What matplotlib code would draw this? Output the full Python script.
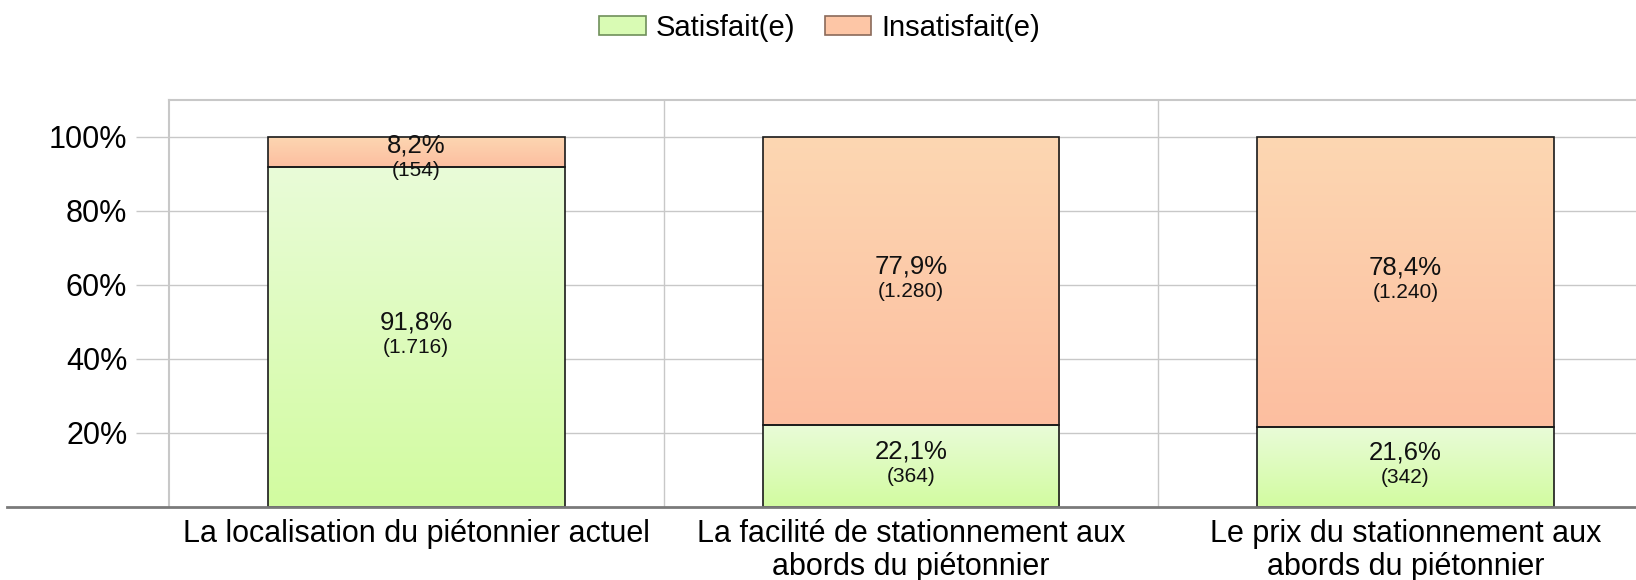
import numpy as np
import matplotlib.pyplot as plt
from matplotlib.patches import Patch
from matplotlib.lines import Line2D
from matplotlib.colors import LinearSegmentedColormap

plt.rcParams['font.family'] = ['Liberation Sans', 'DejaVu Sans']

# data
categories = ["La localisation du piétonnier actuel",
              "La facilité de stationnement aux\nabords du piétonnier",
              "Le prix du stationnement aux\nabords du piétonnier"]
satisfait = [91.8, 22.1, 21.6]
insatisfait = [8.2, 77.9, 78.4]
satisfait_n = ["1.716", "364", "342"]
insatisfait_n = ["154", "1.280", "1.240"]
series_names = ["Satisfait(e)", "Insatisfait(e)"]
yticks = [20, 40, 60, 80, 100]

green_top, green_bot = "#e9fcd8", "#d2fba0"
orange_top, orange_bot = "#fdd7b2", "#fcbea0"

fig = plt.figure(figsize=(16.36, 5.8), dpi=100)
ax = fig.add_axes([0.1033, 0.1259, 0.907, 0.7017])

x = np.arange(len(categories))
w = 0.6
px_per_unit = 368 / 100  # vertical pixels per percent


def gradient_bars(bars, top, bot):
    cmap = LinearSegmentedColormap.from_list("g", [bot, top])
    grad = np.linspace(0, 1, 256).reshape(-1, 1)
    for b in bars:
        x0, y0 = b.get_x(), b.get_y()
        im = ax.imshow(grad, cmap=cmap, origin="lower", aspect="auto",
                       extent=[x0, x0 + b.get_width(), y0, y0 + b.get_height()],
                       zorder=2)
        im.set_clip_path(b)


b1 = ax.bar(x, satisfait, w, color="none", edgecolor="#1a1a1a", lw=1.2, zorder=3)
b2 = ax.bar(x, insatisfait, w, bottom=satisfait, color="none",
            edgecolor="#1a1a1a", lw=1.2, zorder=3)
gradient_bars(b1, green_top, green_bot)
gradient_bars(b2, orange_top, orange_bot)

for i in range(len(categories)):
    for bottom, val, n in [(0, satisfait[i], satisfait_n[i]),
                           (satisfait[i], insatisfait[i], insatisfait_n[i])]:
        mid = bottom + val / 2
        # keep label block inside the bar for small segments
        top_px = (bottom + val - mid) * px_per_unit
        shift = min(0, (top_px - 8) - 15)
        ax.annotate(f"{val:.1f}%".replace(".", ","), (x[i], mid),
                    xytext=(0, 15 + shift), textcoords="offset pixels",
                    ha="center", va="center", fontsize=18.5, color="#111111", zorder=4)
        ax.annotate(f"({n})", (x[i], mid), xytext=(0, -10 + shift),
                    textcoords="offset pixels", ha="center", va="center",
                    fontsize=15, color="#111111", zorder=4)

ax.set_xlim(-0.5, 2.5)
ax.set_ylim(0, 110)
ax.set_yticks(yticks)
ax.set_yticklabels([f"{t}%" for t in yticks], fontsize=22)
ax.set_xticks(x)
ax.set_xticklabels(categories, fontsize=22, linespacing=1.12)
ax.set_xticks([0.5, 1.5], minor=True)
ax.tick_params(axis="x", which="both", length=0, pad=9)
ax.tick_params(axis="y", length=24, width=1, color="#c8c8c8", pad=6)
ax.grid(axis="y", color="#c8c8c8", lw=1, zorder=0)
ax.grid(axis="x", which="minor", color="#c8c8c8", lw=1, zorder=0)
ax.grid(axis="x", which="major", visible=False)
for s in ["left", "top", "right"]:
    ax.spines[s].set_color("#c8c8c8")
    ax.spines[s].set_linewidth(1.5)
ax.spines["bottom"].set_visible(False)

fig.add_artist(Line2D([0.004, 1.0], [0.1259, 0.1259], color="#7a7a7a", lw=2))

handles = [Patch(facecolor="#d9fbb4", edgecolor="#6f8f5a", lw=1.2),
           Patch(facecolor="#fdc6a6", edgecolor="#8a6a5a", lw=1.2)]
fig.legend(handles, series_names, loc="center", bbox_to_anchor=(0.501, 0.952),
           ncol=2, frameon=False, fontsize=21, handlelength=1.6,
           handleheight=0.6, handletextpad=0.35, columnspacing=1.0)

fig.savefig("out.png", dpi=100)
